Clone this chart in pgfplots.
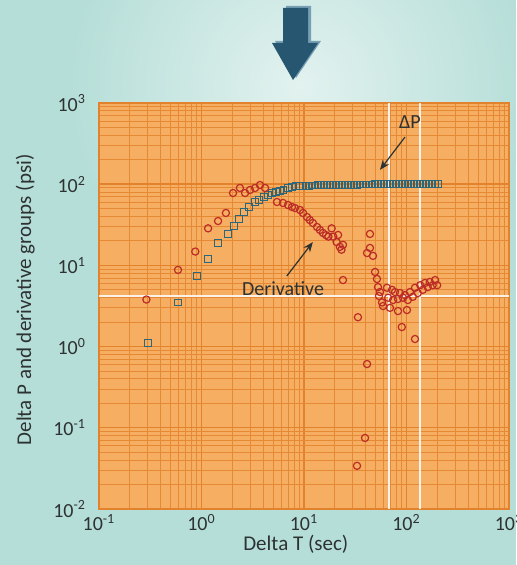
\documentclass[border=0pt]{standalone}
\usepackage{pgfplots}
\pgfplotsset{compat=1.18}
\usepackage{fontspec}
\setmainfont{Carlito}
\usetikzlibrary{arrows.meta}
\definecolor{bgteal}{RGB}{182,222,216}
\definecolor{bglight}{RGB}{226,242,239}
\definecolor{plotorange}{RGB}{246,174,98}
\definecolor{gridorange}{RGB}{226,130,44}
\definecolor{sqcol}{RGB}{42,102,124}
\definecolor{circcol}{RGB}{188,44,38}
\definecolor{arrowblue}{RGB}{38,86,112}
\definecolor{arrowlight}{RGB}{120,160,180}
\definecolor{txt}{RGB}{45,50,50}
\begin{document}
\begin{tikzpicture}
\begin{scope}[x=0.5pt,y=0.5pt]
\fill[bgteal] (0,0) rectangle (516,565);
\begin{scope}
\clip (0,0) rectangle (516,565);
\shade[inner color=bglight, outer color=bgteal] (300,480) circle (230);
\end{scope}
% blue arrow
\fill[arrowlight] (286,559) -- (311,559) -- (311,524) -- (321,524) -- (296,487) -- (275,524) -- (286,524) -- cycle;
\fill[arrowblue] (283,557) -- (308,557) -- (308,522) -- (318,522) -- (293,485) -- (272,522) -- (283,522) -- cycle;
\end{scope}
\begin{axis}[
  at={(49.5pt,28pt)}, anchor=south west,
  scale only axis, width=205pt, height=203pt,
  xmode=log, ymode=log,
  xmin=0.1, xmax=1000, ymin=0.01, ymax=1000,
  axis background/.style={fill=plotorange},
  grid=both,
  major grid style={draw=gridorange, line width=0.7pt},
  minor grid style={draw=gridorange!85!plotorange, line width=0.45pt},
  axis line style={draw=gridorange, line width=0.8pt},
  major tick length=0pt, minor tick length=0pt,
  xtick={0.1,1,10,100,1000},
  xticklabels={10\textsuperscript{-1},10\textsuperscript{0},10\textsuperscript{1},10\textsuperscript{2},10\textsuperscript{3}},
  ytick={0.01,0.1,1,10,100,1000},
  yticklabels={10\textsuperscript{-2},10\textsuperscript{-1},10\textsuperscript{0},10\textsuperscript{1},10\textsuperscript{2},10\textsuperscript{3}},
  tick label style={font=\fontsize{10}{12}\selectfont, text=txt},
  yticklabel style={xshift=-3pt},
  xticklabel style={yshift=1pt},
  xlabel={Delta T (sec)},
  ylabel={Delta P and derivative groups (psi)},
  xlabel style={at={(axis description cs:0.48,-0.088)}, anchor=center, font=\fontsize{10.5}{12}\selectfont, text=txt},
  ylabel style={at={(axis description cs:-0.18,0.515)}, anchor=center, font=\fontsize{10.5}{12}\selectfont, text=txt},
  clip=true,
]
% scan artefact lines
\draw[white, line width=0.9pt, opacity=0.85] (axis cs:67,0.01) -- (axis cs:67,1000);
\draw[white, line width=0.9pt, opacity=0.85] (axis cs:136,0.01) -- (axis cs:136,1000);
\draw[white, line width=0.9pt, opacity=0.85] (axis cs:0.1,4.2) -- (axis cs:1000,4.2);
% Delta P (squares)
\addplot[only marks, mark=square, mark size=1.7pt, mark options={draw=sqcol, line width=0.5pt, fill=none}] coordinates {
(0.30,1.1) (0.59,3.5) (0.90,7.4) (1.16,11.9) (1.45,18.9) (1.80,24.4) (2.07,30.5)
(2.32,37.2) (2.60,45.5) (2.90,52.4) (3.33,60.4) (3.64,63.9) (4.07,69.5) (4.45,73.6)
(4.87,77.9) (5.33,80.2) (5.84,82.5) (6.30,84.9) (6.98,89.8) (7.64,92.5) (8.40,95)
(9.14,95.5) (9.78,95.5) (10.46,96) (11.19,96) (11.97,96.5) (12.80,96.5) (13.70,97)
(14.65,97) (15.67,97) (16.77,97.5) (17.93,97.5) (19.18,97.5) (20.52,98) (21.95,98)
(23.48,98) (25.12,98) (26.87,98.5) (28.74,98.5) (30.75,98.5) (32.89,98.5) (35.18,99)
(37.63,99) (40.26,99) (43.06,99) (46.07,99) (49.28,99.5) (52.71,99.5) (56.39,99.5)
(60.32,99.5) (64.52,99.5) (69.02,100) (73.83,100) (78.98,100) (84.48,100) (90.37,100)
(96.67,100) (103.4,100) (110.6,100) (118.3,100) (126.6,100) (135.4,100) (144.8,100)
(154.9,100) (165.7,100) (177.3,100) (189.6,100) (202.9,100)
};
% Derivative (circles)
\addplot[only marks, mark=o, mark size=1.8pt, mark options={draw=circcol, line width=0.6pt}] coordinates {
(0.29,3.8) (0.59,8.8) (0.87,14.8) (1.16,28.6) (1.45,35.2) (1.73,44.2)
(2.03,77.9) (2.37,89.8) (2.66,77.9) (2.97,84.9) (3.33,89.8) (3.72,97.7) (4.17,89.8)
(5.45,60.4) (6.24,58.7) (6.98,55.4) (7.64,52.4) (8.17,50.9) (9.14,48.1) (9.78,44.2)
(10.7,39.4) (11.4,36.2) (12.2,33.3) (13.4,29.7) (14.3,27.3) (15.3,25.1) (16.4,23.6)
(17.3,22.6) (18.6,28.6) (19.3,22.6) (20.8,19.4) (21.5,23.7) (22.4,16.9) (23.2,15.6)
(24.0,17.9)
(24.0,6.6) (33.6,2.3) (41.2,0.61) (39.4,0.075) (32.9,0.034)
(44.0,24.4) (44.0,16.4) (41.2,14.2) (47.1,13.1) (49.3,8.3) (51.5,6.8) (52.7,5.4)
(55.1,4.7) (53.9,4.2) (57.7,3.5) (59,3.16)
(64.5,5.3) (72.2,5.0) (77.2,4.7) (86.4,4.57) (96.7,4.3) (108,4.7) (121,5.3)
(136,5.7) (151,6.07) (169,6.25) (190,6.6) (199,5.7)
(66.2,4.0) (74.0,3.75) (82.6,3.86) (92.4,4.0) (103,3.75) (115,4.1) (129,4.57)
(144,5.0) (161,5.4) (180,5.7)
(69,3.0) (82.6,2.74) (101,2.82) (90,1.74) (121,1.24)
};
% annotations
\node[font=\fontsize{10}{12}\selectfont, text=txt] at (axis cs:108,583) {ΔP};
\draw[-{Stealth[length=5pt,width=4pt]}, txt, line width=0.6pt] (axis cs:96.7,381) -- (axis cs:55.1,150);
\node[font=\fontsize{10}{12}\selectfont, text=txt] at (axis cs:6.24,5.1) {Derivative};
\draw[-{Stealth[length=5pt,width=4pt]}, txt, line width=0.6pt] (axis cs:6.8,7.4) -- (axis cs:12.2,19.4);
\end{axis}
\pgfresetboundingbox
\useasboundingbox (0,0) rectangle (258pt,282.5pt);
\end{tikzpicture}
\end{document}
